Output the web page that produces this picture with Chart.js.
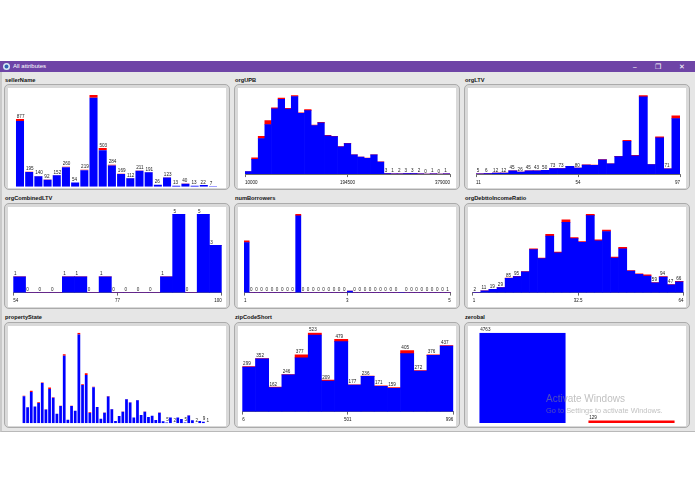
<!DOCTYPE html>
<html>
<head>
<meta charset="utf-8">
<title>All attributes</title>
<script src="https://cdn.jsdelivr.net/npm/chart.js@4.4.1/dist/chart.umd.min.js"></script>
<style>
   html, body { margin: 0; padding: 0; background: #fff; }
   body { width: 695px; height: 494px; position: relative; overflow: hidden; font-family: "Liberation Sans", Arial, sans-serif; }
   #titlebar { position: absolute; left: 0; top: 61px; width: 695px; height: 11px; background: #6e44a6; color: #fff; }
   #titlebar .icon { position: absolute; left: 3px; top: 2px; width: 7px; height: 7px; border-radius: 50%; background: #2f63b3; box-shadow: inset 0 0 0 1.5px #dfe8f5; }
   #titlebar .text { position: absolute; left: 13px; top: 0; font-size: 6px; line-height: 11px; }
   #titlebar .btn { position: absolute; top: 0; font-size: 6.5px; line-height: 11px; }
   #content { position: absolute; left: 0; top: 72px; width: 695px; height: 360px; background: #e6e6e6; box-sizing: border-box; border-left: 2px solid #cacaca; border-bottom: 1px solid #b9b9b9; }
   .plabel { position: absolute; font-size: 5.7px; font-weight: bold; color: #111; line-height: 7px; }
   .frame { position: absolute; width: 226px; height: 106px; box-sizing: border-box; border: 1px solid #ababab; border-radius: 5px; background: #d9d9d9; }
   canvas { position: absolute; background: #fff; }
   .wm { position: absolute; color: rgba(140, 140, 140, 0.55); white-space: nowrap; }
</style>
</head>
<body>
<div id="titlebar">
   <div class="icon"></div>
   <div class="text">All attributes</div>
   <div class="btn" style="left:633px">&#8211;</div>
   <div class="btn" style="left:655px">&#10064;</div>
   <div class="btn" style="left:679px">&#10005;</div>
</div>
<div id="content"></div>

<script>
// ---- data ----
const sellerNameCounts = [877, 195, 140, 92, 152, 260, 54, 219, 1190, 503, 284, 169, 112, 211, 191, 26, 123, 13, 40, 13, 22, 7];
const sellerNameRed = [26, 4, 3, 2, 3, 9, 1, 5, 35, 30, 9, 4, 2, 4, 4, 0, 3, 0, 1, 0, 0, 0];

const orgUPBCounts = [15, 94, 219, 309, 383, 440, 381, 456, 355, 374, 284, 299, 224, 219, 159, 178, 112, 99, 92, 112, 71,
   3, 1, 2, 3, 3, 2, 0, 1, 0, 1];
const orgUPBRed = [0, 9, 13, 22, 6, 7, 5, 7, 4, 7, 3, 3, 2, 2, 1, 2, 1, 1, 1, 1, 1, 0, 0, 0, 0, 0, 0, 0, 0, 0, 0];
const orgUPBTicks = [10000, 194500, 379000];

const orgLTVCounts = [5, 6, 12, 12, 45, 26, 45, 43, 50, 73, 73, 104, 80, 122, 120, 195, 138, 236, 450, 250, 1050, 130, 495, 71, 775];
const orgLTVRed = [0, 0, 0, 0, 1, 0, 1, 1, 1, 1, 1, 2, 1, 2, 2, 4, 2, 4, 12, 5, 22, 2, 12, 1, 34];
const orgLTVTicks = [11, 54, 97];

const orgCombinedLTVCounts = [1, 0, 0, 0, 1, 1, 0, 1, 0, 0, 0, 0, 1, 5, 0, 5, 3];
const orgCombinedLTVRed = [0, 0, 0, 0, 0, 0, 0, 0, 0, 0, 0, 0, 0, 0, 0, 0, 0];
const orgCombinedLTVTicks = [54, 77, 100];

const numBorrowersCounts = [1920, 0, 0, 0, 0, 0, 0, 0, 0, 0, 2920, 0, 0, 0, 0, 0, 0, 0, 0, 0,
   55, 0, 0, 0, 0, 0, 0, 0, 0, 0, 12, 0, 0, 0, 0, 0, 0, 0, 0, 1];
const numBorrowersRed = [60, 0, 0, 0, 0, 0, 0, 0, 0, 0, 65, 0, 0, 0, 0, 0, 0, 0, 0, 0,
   2, 0, 0, 0, 0, 0, 0, 0, 0, 0, 0, 0, 0, 0, 0, 0, 0, 0, 0, 0];
const numBorrowersTicks = [1, 3, 5];

const orgDebtCounts = [2, 11, 19, 29, 85, 95, 124, 257, 203, 342, 238, 428, 323, 300, 462, 310, 367, 209, 266, 129, 110, 105, 59, 94, 47, 66];
const orgDebtRed = [0, 0, 0, 0, 1, 1, 2, 4, 3, 10, 4, 15, 6, 4, 10, 5, 8, 6, 8, 2, 3, 8, 2, 3, 1, 2];
const orgDebtTicks = [1, 32.5, 64];

const propertyStateCounts = [160, 93, 189, 98, 122, 237, 81, 207, 151, 56, 102, 400, 21, 102, 73, 525, 226, 290, 64, 212,
   95, 27, 62, 158, 83, 14, 42, 68, 141, 122, 33, 135, 48, 68, 37, 44, 19, 62, 12, 5,
   33, 2, 33, 25, 5, 46, 17, 2, 14, 9, 1];
const propertyStateRed = [3, 0, 8, 1, 5, 3, 1, 8, 3, 0, 2, 8, 0, 2, 1, 10, 4, 10, 4, 3,
   1, 0, 1, 3, 1, 0, 0, 1, 2, 1, 0, 1, 0, 1, 0, 0, 0, 1, 0, 0,
   0, 0, 0, 0, 0, 1, 0, 0, 0, 0, 0];

const zipCodeCounts = [299, 352, 162, 246, 377, 523, 209, 479, 177, 236, 171, 159, 405, 272, 376, 437];
const zipCodeRed = [4, 2, 3, 3, 21, 15, 6, 15, 2, 3, 4, 4, 21, 3, 3, 2];
const zipCodeTicks = [6, 501, 996];

const zerobalCounts = [4763, 129];
const zerobalRed = [0, 129];

// ---- drawing ----
const FONT = "'Liberation Sans', Arial, sans-serif";
const BLUE = "#0000ff";
const RED = "#ff0000";

// Weka style: count written above a bar when it fits
const countLabels = {
   id: "countLabels",
   afterDatasetsDraw(chart, args, opts)
   {
      const ctx = chart.ctx;
      const tops = chart.getDatasetMeta(1).data;
      ctx.save();
      ctx.font = "4.6px " + FONT;
      ctx.fillStyle = "#222";
      ctx.textBaseline = "bottom";
      opts.counts.forEach(function(n, i)
      {
         const text = String(n);
         if (text.length > opts.maxDigits) return;
         const bar = tops[i];
         ctx.fillText(text, bar.x - bar.width / 2 + 0.8, bar.y - 0.4);
      });
      ctx.restore();
   }
};

function histogram(name, col, row, counts, red, setup)
{
   const fx = [4, 234, 464][col];
   const fy = [84, 203, 322][row];
   const ly = [77, 195, 314][row];

   const label = document.createElement("div");
   label.className = "plabel";
   label.style.left = (fx + 1) + "px";
   label.style.top = ly + "px";
   label.textContent = name;
   document.body.appendChild(label);

   const frame = document.createElement("div");
   frame.className = "frame";
   frame.style.left = fx + "px";
   frame.style.top = fy + "px";
   document.body.appendChild(frame);

   const canvas = document.createElement("canvas");
   canvas.width = 218;
   canvas.height = 100;
   canvas.style.left = (fx + 4) + "px";
   canvas.style.top = (fy + 4) + "px";
   document.body.appendChild(canvas);

   const blue = counts.map(function(n, i) { return n - red[i]; });
   const scales = {
      x: { display: false, stacked: true },
      y: { display: false, stacked: true, min: 0, max: Math.max.apply(null, counts) }
   };
   if (setup.ticks)
   {
      const ticks = setup.ticks;
      scales.x2 = {
         type: "linear",
         axis: "x",
         position: "bottom",
         offset: false,
         min: ticks[0],
         max: ticks[ticks.length - 1],
         afterBuildTicks: function(scale) { scale.ticks = ticks.map(function(v) { return { value: v }; }); },
         grid: { offset: false, drawOnChartArea: false, drawTicks: true, tickLength: 3, color: "#444", lineWidth: 0.8 },
         border: { display: true, color: "#444", width: 0.8 },
         ticks: {
            align: "inner", padding: 2.5, color: "#111", maxRotation: 0, autoSkip: false,
            font: { size: 4.5, family: FONT },
            callback: function(v) { return String(v); }
         }
      };
   }

   new Chart(canvas,
   {
      type: "bar",
      data: {
         labels: counts.map(function(n, i) { return String(i); }),
         datasets: [
            { data: blue, backgroundColor: BLUE, borderWidth: 0, barPercentage: setup.bar, categoryPercentage: 1 },
            { data: red, backgroundColor: RED, borderWidth: 0, barPercentage: setup.bar, categoryPercentage: 1 }
         ]
      },
      options: {
         responsive: false,
         animation: false,
         devicePixelRatio: 1,
         events: [],
         layout: { padding: setup.pad },
         plugins: {
            legend: { display: false },
            tooltip: { enabled: false },
            countLabels: { counts: counts, maxDigits: setup.digits }
         },
         scales: scales
      },
      plugins: [countLabels]
   });
}

histogram("sellerName", 0, 0, sellerNameCounts, sellerNameRed,
   { bar: 0.875, digits: 3, pad: { left: 7.4, right: 8.4, top: 7, bottom: 1.3 } });
histogram("orgUPB", 1, 0, orgUPBCounts, orgUPBRed,
   { bar: 1, digits: 1, ticks: orgUPBTicks, pad: { left: 7, right: 6, top: 7.3, bottom: 0.5 } });
histogram("orgLTV", 2, 0, orgLTVCounts, orgLTVRed,
   { bar: 1, digits: 2, ticks: orgLTVTicks, pad: { left: 8, right: 6, top: 7.3, bottom: 0.5 } });
histogram("orgCombinedLTV", 0, 1, orgCombinedLTVCounts, orgCombinedLTVRed,
   { bar: 1, digits: 1, ticks: orgCombinedLTVTicks, pad: { left: 5.3, right: 4.3, top: 7, bottom: 1 } });
histogram("numBorrowers", 1, 1, numBorrowersCounts, numBorrowersRed,
   { bar: 1, digits: 1, ticks: numBorrowersTicks, pad: { left: 6, right: 5.3, top: 7, bottom: 1 } });
histogram("orgDebttoIncomeRatio", 2, 1, orgDebtCounts, orgDebtRed,
   { bar: 1, digits: 2, ticks: orgDebtTicks, pad: { left: 4.7, right: 2, top: 7, bottom: 1 } });
histogram("propertyState", 0, 2, propertyStateCounts, propertyStateRed,
   { bar: 0.75, digits: 1, pad: { left: 14.1, right: 17.1, top: 6.7, bottom: 2.7 } });
histogram("zipCodeShort", 1, 2, zipCodeCounts, zipCodeRed,
   { bar: 1, digits: 3, ticks: zipCodeTicks, pad: { left: 4.3, right: 2.7, top: 6.7, bottom: 1 } });
histogram("zerobal", 2, 2, zerobalCounts, zerobalRed,
   { bar: 0.79, digits: 4, pad: { left: 0, right: 0, top: 6.7, bottom: 3 } });

// OS watermark lying over the last panel
const wm1 = document.createElement("div");
wm1.className = "wm";
wm1.style.cssText = "left:546px;top:393px;font-size:10px;line-height:12px;";
wm1.textContent = "Activate Windows";
document.body.appendChild(wm1);
const wm2 = document.createElement("div");
wm2.className = "wm";
wm2.style.cssText = "left:546px;top:406px;font-size:7.4px;line-height:9px;";
wm2.textContent = "Go to Settings to activate Windows.";
document.body.appendChild(wm2);
</script>
</body>
</html>
